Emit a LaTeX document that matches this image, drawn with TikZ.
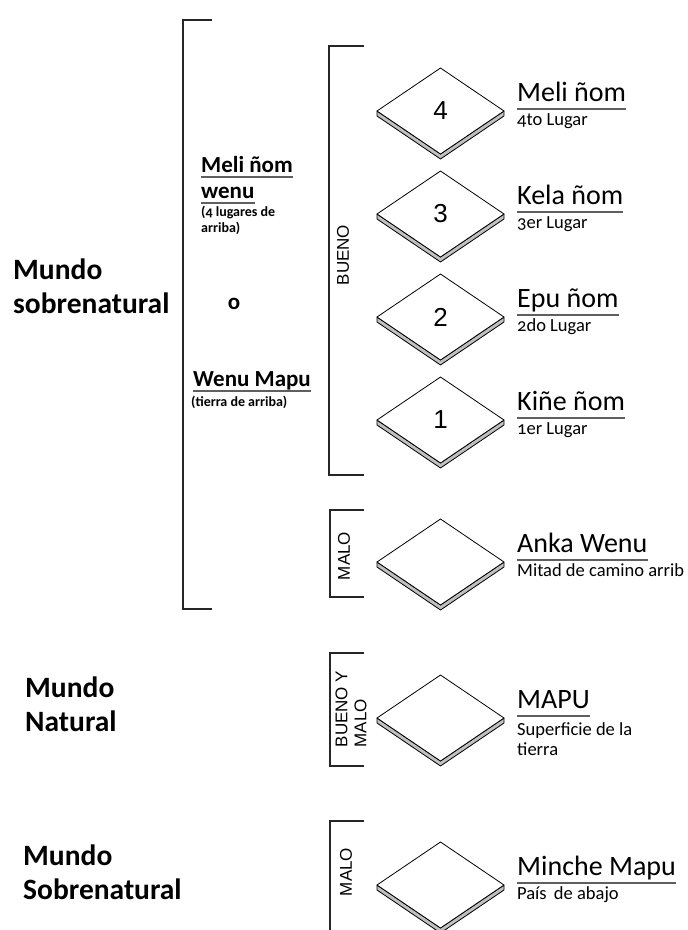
\documentclass[tikz,border=0pt]{standalone}
\usepackage{fontspec}
\setmainfont{Carlito}[Numbers=OldStyle]
\newfontfamily\arialfont{Liberation Sans}
\usetikzlibrary{positioning}

\begin{document}
\begin{tikzpicture}[x=1pt,y=-1pt]

    % Farben
    \definecolor{slabgray}{RGB}{192,192,192}
    \definecolor{linegray}{RGB}{95,95,95}

    % Maße der Platten
    \def\CX{440.5}
    \def\DW{63.5}
    \def\DH{43}
    \def\DT{5}

    \useasboundingbox (0,0) rectangle (688,930);

    \tikzset{
        mundo/.style={anchor=base west, align=left, inner sep=0pt,
            font=\bfseries\fontsize{29.5}{34}\selectfont},
        wenutitle/.style={anchor=base west, inner sep=0pt,
            font=\bfseries\fontsize{23}{26}\selectfont},
        wenusub/.style={anchor=base west, align=left, inner sep=0pt,
            font=\bfseries\fontsize{14}{16}\selectfont},
        lugartitle/.style={anchor=base west, inner sep=0pt,
            font=\fontsize{28}{30}\selectfont},
        lugarsub/.style={anchor=base west, align=left, inner sep=0pt,
            font=\fontsize{18.5}{20}\selectfont},
        numlabel/.style={font=\arialfont\fontsize{26}{28}\selectfont},
        tag/.style={rotate=90, align=left, inner sep=0pt,
            font=\arialfont\fontsize{17}{19}\selectfont},
        bracket/.style={line width=1.1pt, black!85},
        subline/.style={line width=1.4pt, linegray},
    }

    % Platte: Name, Mitte y, Zahl
    \newcommand{\plano}[3]{%
        \filldraw[fill=slabgray, line width=0.8pt, line join=round]
            (\CX-\DW,#2) -- ++(0,\DT) -- (\CX,#2+\DH+\DT) -- (\CX+\DW,#2+\DT)
            -- ++(0,-\DT) -- (\CX,#2+\DH) -- cycle;
        \filldraw[fill=white, line width=0.8pt, line join=round]
            (\CX-\DW,#2) -- (\CX,#2-\DH) -- (\CX+\DW,#2) -- (\CX,#2+\DH) -- cycle;
        \node[numlabel] (#1) at (\CX,#2) {#3};
    }

    % Beschriftung rechts: Name, Mitte y, Titel, Untertitel, Grundlinie (letzte Zeile)
    \newcommand{\lugar}[5]{%
        \node[lugartitle] (#1-t) at (517,#2-10) {#3};
        \draw[subline] ([yshift=-8pt]#1-t.base west) -- ([yshift=-8pt]#1-t.base east);
        \node[lugarsub] (#1-s) at (517,#5) {#4};
    }

    % Klammern
    \draw[bracket] (212,20) -- (183,20) -- (183,609) -- (212,609);
    \draw[bracket] (364,46) -- (329,46) -- (329,475) -- (364,475);
    \draw[bracket] (364,510) -- (330,510) -- (330,597) -- (364,597);
    \draw[bracket] (364,653) -- (330,653) -- (330,766) -- (364,766);
    \draw[bracket] (364,821) -- (330,821) -- (330,935);

    % Welten links (y = Grundlinie der letzten Zeile)
    \node[mundo] (sobre) at (13,313) {Mundo\\sobrenatural};
    \node[mundo] (natural) at (25,731) {Mundo\\Natural};
    \node[mundo] (abajo) at (23,899) {Mundo\\Sobrenatural};

    % Mittlere Spalte
    \node[wenutitle] (meli) at (201,172) {Meli ñom};
    \draw[subline] ([yshift=-5pt]meli.base west) -- ([yshift=-5pt]meli.base east);
    \node[wenutitle] (wenu) at (201,198) {wenu};
    \draw[subline] ([yshift=-5pt]wenu.base west) -- ([yshift=-5pt]wenu.base east);
    \node[wenusub] (lugares) at (201,232) {(4 lugares de\\arriba)};
    \node[font=\bfseries\fontsize{23}{26}\selectfont] (oder) at (234,304) {o};
    \node[wenutitle] (wmapu) at (193,386) {Wenu Mapu};
    \draw[subline] ([yshift=-5pt]wmapu.base west) -- ([yshift=-5pt]wmapu.base east);
    \node[wenusub] (tierra) at (191,406) {(tierra de arriba)};

    % Gut / schlecht
    \node[tag] (bueno) at (343,255) {BUENO};
    \node[tag] (malo1) at (344,556) {MALO};
    \node[tag] (ambos) at (351,709) {BUENO Y\\MALO};
    \node[tag] (malo2) at (346,872) {MALO};

    % Platten
    \plano{p4}{111}{4}
    \plano{p3}{214}{3}
    \plano{p2}{317}{2}
    \plano{p1}{420}{1}
    \plano{anka}{562}{}
    \plano{mapu}{718}{}
    \plano{minche}{885}{}

    % Beschriftung rechts
    \lugar{l4}{111}{Meli ñom}{4to Lugar}{125}
    \lugar{l3}{214}{Kela ñom}{3er Lugar}{228}
    \lugar{l2}{317}{Epu ñom}{2do Lugar}{331}
    \lugar{l1}{420}{Kiñe ñom}{1er Lugar}{434}
    \lugar{lanka}{562}{Anka Wenu}{Mitad de camino arrib}{576}
    \lugar{lmapu}{718}{MAPU}{Superficie de la\\tierra}{755}
    \lugar{lminche}{885}{Minche Mapu}{País\, de abajo}{899}

\end{tikzpicture}
\end{document}
